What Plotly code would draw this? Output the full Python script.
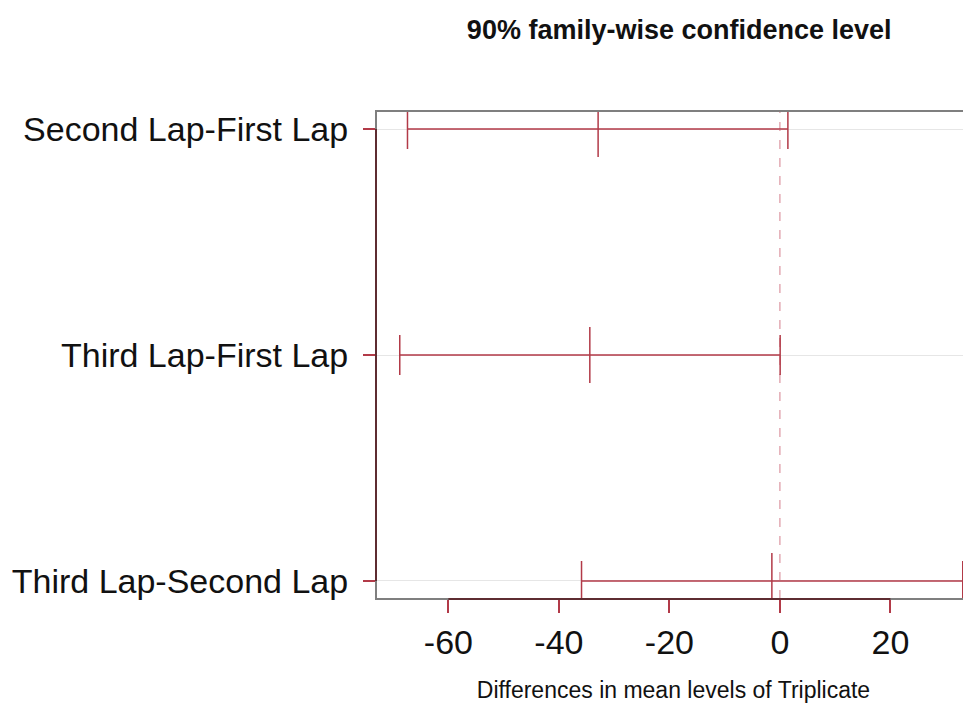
import plotly.graph_objects as go

comparisons = ["Second Lap-First Lap", "Third Lap-First Lap", "Third Lap-Second Lap"]
diff = [-32.9, -34.4, -1.45]
lwr = [-67.4, -68.8, -35.9]
upr = [1.45, 0.05, 33.1]
x_ticks = [-60, -40, -20, 0, 20]
x_tick_labels = ["-60", "-40", "-20", "0", "20"]

RED = "#b23a48"
AXIS_DARK = "#5e2c31"
BOX = "#7f7f7f"
FONT = "Liberation Sans, Arial, sans-serif"

ypos = list(range(len(comparisons)))

fig = go.Figure()
fig.add_trace(go.Scatter(
    x=diff, y=ypos, mode="markers",
    marker=dict(symbol="line-ns-open", size=40, color=RED,
                line=dict(color=RED, width=1.5)),
    error_x=dict(type="data", symmetric=False,
                 array=[u - d for u, d in zip(upr, diff)],
                 arrayminus=[d - l for d, l in zip(diff, lwr)],
                 color=RED, thickness=1.5, width=20),
    showlegend=False, hoverinfo="skip",
))

shapes = [
    dict(type="line", xref="x", yref="paper", x0=0, x1=0, y0=0, y1=1,
         line=dict(color="#e3aab3", width=1.5, dash="dash"), layer="below"),
    dict(type="rect", xref="paper", yref="paper", x0=0, x1=1.01, y0=0, y1=1,
         line=dict(color=BOX, width=2)),
    dict(type="line", xref="paper", yref="y", x0=0, x1=0, y0=ypos[0], y1=ypos[-1],
         line=dict(color=AXIS_DARK, width=2)),
    dict(type="line", xref="x", yref="paper", x0=x_ticks[0], x1=x_ticks[-1], y0=0, y1=0,
         line=dict(color=AXIS_DARK, width=2)),
]

W, H = 963, 695
L, T = 368, 103
PB = 591  # plot bottom in figure px
plot_w = W - L
x0 = -73.1
x1 = x0 + plot_w / 5.525

fig.update_layout(
    width=W, height=H,
    margin=dict(l=L, r=0, t=T, b=H - PB),
    paper_bgcolor="white", plot_bgcolor="white",
    font=dict(family=FONT, color="#111111"),
    title=dict(text="<b>90% family-wise confidence level</b>",
               x=0.697, xanchor="center", y=1 - 22 / H, yanchor="middle",
               font=dict(size=27, family=FONT, color="#111111")),
    shapes=shapes,
    xaxis=dict(range=[x0, x1], tickvals=x_ticks, ticktext=x_tick_labels,
               showgrid=False, zeroline=False, showline=False,
               ticks="outside", ticklen=13, tickwidth=1.5, tickcolor=RED,
               tickfont=dict(size=34, family=FONT, color="#111111"),
               title=dict(text="Differences in mean levels of Triplicate",
                          font=dict(size=23, family=FONT, color="#111111"), standoff=26)),
    yaxis=dict(range=[2.08, -0.08], tickvals=ypos, ticktext=comparisons,
               showgrid=True, gridcolor="#e6e6e6", gridwidth=1,
               zeroline=False, showline=False,
               ticks="outside", ticklen=12, tickwidth=1.5, tickcolor=RED,
               ticklabelstandoff=8,
               tickfont=dict(size=34, family=FONT, color="#111111")),
)

fig.write_html("out.html")
